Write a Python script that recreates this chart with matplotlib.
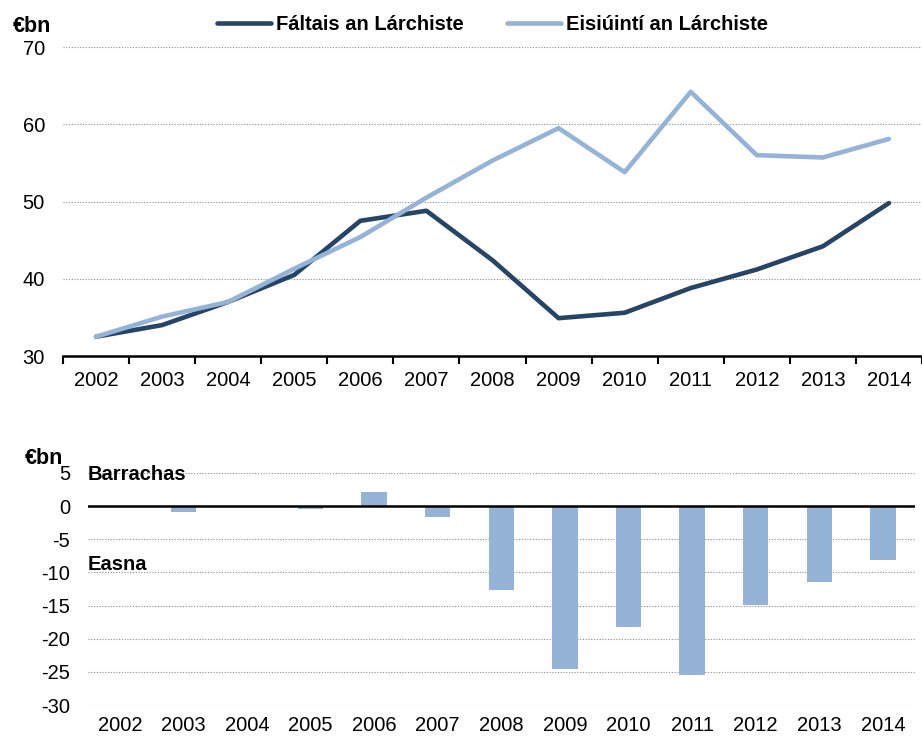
import matplotlib
matplotlib.use("Agg")
from matplotlib import pyplot as plt
import numpy as np

font = {'family': 'Liberation Sans',
        'size': 14.5}
matplotlib.rc('font', **font)
matplotlib.rcParams['axes.unicode_minus'] = False

years = ['2002', '2003', '2004', '2005', '2006', '2007', '2008',
         '2009', '2010', '2011', '2012', '2013', '2014']
receipts = [32.5, 34.0, 37.0, 40.5, 47.5, 48.8, 42.4, 34.9, 35.6, 38.8, 41.2, 44.2, 49.8]
spending = [32.5, 35.1, 37.0, 41.3, 45.4, 50.5, 55.3, 59.5, 53.8, 64.2, 56.0, 55.7, 58.1]
balance = [0.0, -0.85, 0.0, -0.45, 2.15, -1.7, -12.7, -24.6, -18.2, -25.4, -14.9, -11.5, -8.1]

dark = '#264466'
light = '#95B3D7'
grid_kw = dict(color='#8c8c8c', ls=(0, (1, 1.5)), lw=0.8)

fig = plt.figure(figsize=(9.22, 7.38), dpi=100)

# top panel: lines
ax1 = fig.add_axes([0.0683, 0.5176, 0.9317, 0.4187])
x = np.arange(len(years))
ax1.plot(x, receipts, color=dark, lw=3.3, label='Fáltais an Lárchiste', solid_capstyle='round')
ax1.plot(x, spending, color=light, lw=3.3, label='Eisiúintí an Lárchiste', solid_capstyle='round')
ax1.set_xlim(-0.5, len(years) - 0.5)
ax1.set_ylim(30, 70)
ax1.set_yticks([30, 40, 50, 60, 70])
ax1.set_xticks(x)
ax1.set_xticklabels(years)
ax1.set_xticks(np.arange(-0.5, len(years)), minor=True)
ax1.tick_params(axis='x', which='major', length=0, pad=11)
ax1.tick_params(axis='x', which='minor', length=6, width=1.5, direction='out')
ax1.tick_params(axis='y', length=0, pad=13)
for s in ['top', 'right', 'left']:
    ax1.spines[s].set_visible(False)
ax1.spines['bottom'].set_linewidth(1.8)
ax1.set_axisbelow(True)
ax1.yaxis.grid(True, **grid_kw)
ax1.legend(loc='lower center', bbox_to_anchor=(0.5, 1.015), ncol=2, frameon=False,
           prop={'weight': 'bold', 'size': 14.5}, handlelength=2.7, columnspacing=2.1,
           handletextpad=0.25, borderaxespad=0)
fig.text(0.014, 0.964, '€bn', fontsize=15.5, fontweight='bold', va='center')

# bottom panel: bars
ax2 = fig.add_axes([0.0954, 0.0447, 0.8966, 0.3144])
ax2.bar(x, balance, width=0.4, color=light, zorder=2)
ax2.axhline(0, color='black', lw=1.8, zorder=3)
ax2.set_xlim(-0.5, len(years) - 0.5)
ax2.set_ylim(-30, 5)
ax2.set_yticks(np.arange(-30, 6, 5))
ax2.set_xticks(x)
ax2.set_xticklabels(years)
ax2.tick_params(length=0)
ax2.tick_params(axis='x', pad=8)
ax2.tick_params(axis='y', pad=13)
for s in ax2.spines.values():
    s.set_visible(False)
ax2.yaxis.grid(True, **grid_kw)
ax2.set_axisbelow(True)
ax2.text(-0.5, 4.7, 'Barrachas', fontweight='bold', fontsize=14.5, va='center', ha='left')
ax2.text(-0.5, -8.8, 'Easna', fontweight='bold', fontsize=14.5, va='center', ha='left')
fig.text(0.027, 0.379, '€bn', fontsize=15.5, fontweight='bold', va='center')

plt.savefig('out.png', dpi=100)
